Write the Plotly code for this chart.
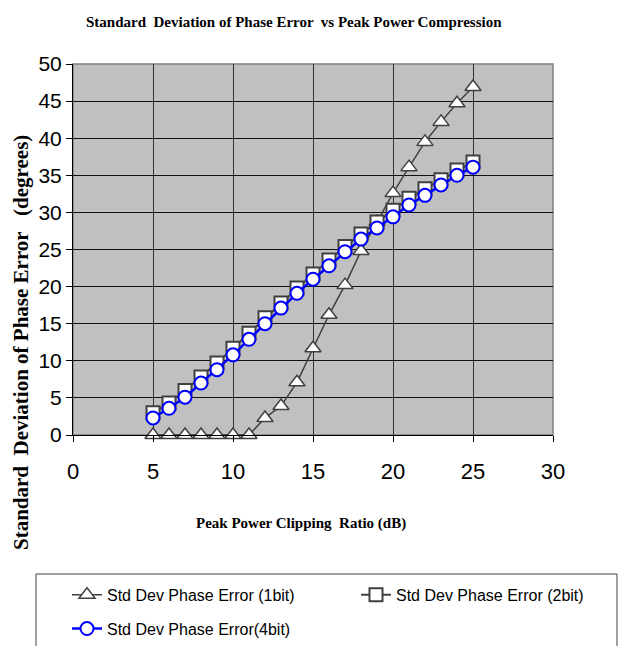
import plotly.graph_objects as go

x_vals = list(range(5, 26))
err_1bit = [0, 0, 0, 0, 0, 0, 0, 2.3, 3.9, 7.1, 11.7, 16.2, 20.2, 24.8, 28.7, 32.6, 36.1, 39.5, 42.2, 44.7, 46.9]
err_2bit = [3.0, 4.3, 6.0, 7.8, 9.7, 11.7, 13.7, 15.8, 17.8, 19.8, 21.7, 23.6, 25.4, 27.1, 28.7, 30.3, 31.9, 33.2, 34.4, 35.7, 36.8]
err_4bit = [2.3, 3.6, 5.1, 7.0, 8.8, 10.8, 12.9, 15.0, 17.1, 19.1, 21.0, 22.8, 24.7, 26.4, 27.9, 29.4, 31.0, 32.3, 33.7, 35.0, 36.1]

x_ticks = [0, 5, 10, 15, 20, 25, 30]
y_ticks = [0, 5, 10, 15, 20, 25, 30, 35, 40, 45, 50]

serif = "Liberation Serif, Times New Roman, serif"
sans = "Liberation Sans, Arial, sans-serif"

fig = go.Figure()
fig.add_trace(go.Scatter(
    x=x_vals, y=err_1bit, mode="lines+markers", name="Std Dev Phase Error (1bit)",
    line=dict(color="#404040", width=1.5),
    marker=dict(symbol="triangle-up", size=14, color="white", line=dict(color="#404040", width=1.5)),
    cliponaxis=False, legend="legend", legendgroup="g1",
))
fig.add_trace(go.Scatter(
    x=x_vals, y=err_2bit, mode="lines+markers", name="Std Dev Phase Error (2bit)",
    line=dict(color="#404040", width=2),
    marker=dict(symbol="square", size=13, color="white", line=dict(color="#404040", width=2)),
    cliponaxis=False, legend="legend2", legendgroup="g2",
))
fig.add_trace(go.Scatter(
    x=x_vals, y=err_4bit, mode="lines+markers", name="Std Dev Phase Error(4bit)",
    line=dict(color="#0000ff", width=2.5),
    marker=dict(symbol="circle", size=13, color="white", line=dict(color="#0000ff", width=2)),
    cliponaxis=False, legend="legend", legendgroup="g3",
))

legend_common = dict(
    orientation="v", yanchor="top", xanchor="left",
    borderwidth=0, bgcolor="rgba(0,0,0,0)",
    font=dict(family=sans, size=16, color="black"),
    itemwidth=30, tracegroupgap=10,
)

fig.update_layout(
    width=625, height=646,
    margin=dict(l=73, r=72, t=64, b=211, autoexpand=False),
    paper_bgcolor="white",
    plot_bgcolor="#c0c0c0",
    title=dict(
        text="<b>Standard  Deviation of Phase Error  vs Peak Power Compression</b>",
        font=dict(family=serif, size=15, color="black"),
        x=0.47, xanchor="center", y=0.966, yanchor="middle",
    ),
    xaxis=dict(
        range=[0, 30], tickvals=x_ticks, ticks="outside", ticklen=6, tickcolor="black",
        showline=True, linecolor="black", linewidth=1,
        showgrid=True, gridcolor="#303030", gridwidth=1, zeroline=False,
        tickfont=dict(family=sans, size=22, color="black"),
        ticklabelstandoff=11,
    ),
    yaxis=dict(
        range=[0, 50], tickvals=y_ticks, ticks="outside", ticklen=6, tickcolor="black",
        showline=True, linecolor="black", linewidth=1,
        showgrid=True, gridcolor="#101010", gridwidth=1, zeroline=False,
        tickfont=dict(family=sans, size=21, color="black"),
    ),
    legend=dict(x=(67 - 73) / 480, y=-0.385, **legend_common),
    legend2=dict(x=(356 - 73) / 480, y=-0.385, **legend_common),
    showlegend=True,
)

# axis titles as annotations (placed off-centre like the original)
fig.add_annotation(
    text="<b>Peak Power Clipping  Ratio (dB)</b>", xref="paper", yref="paper",
    x=(301 - 73) / 480, y=(435 - 523) / 371, xanchor="center", yanchor="middle",
    showarrow=False, font=dict(family=serif, size=15, color="black"),
)
fig.add_annotation(
    text="<b>Standard  Deviation of Phase Error   (degrees)</b>", xref="paper", yref="paper",
    x=(21 - 73) / 480, y=(435 - 343) / 371, xanchor="center", yanchor="middle",
    textangle=-90, showarrow=False, font=dict(family=serif, size=21, color="black"),
)

# plot-area outline
fig.add_shape(type="rect", xref="paper", yref="paper", x0=0, y0=0, x1=1, y1=1,
              line=dict(color="#808080", width=1.5), fillcolor="rgba(0,0,0,0)", layer="below")
# legend box
fig.add_shape(type="rect", xref="paper", yref="paper",
              x0=(36 - 73) / 480, x1=(617 - 73) / 480,
              y0=(435 - 660) / 371, y1=(435 - 574) / 371,
              line=dict(color="#404040", width=1), fillcolor="rgba(0,0,0,0)")

fig.write_html("out.html")
